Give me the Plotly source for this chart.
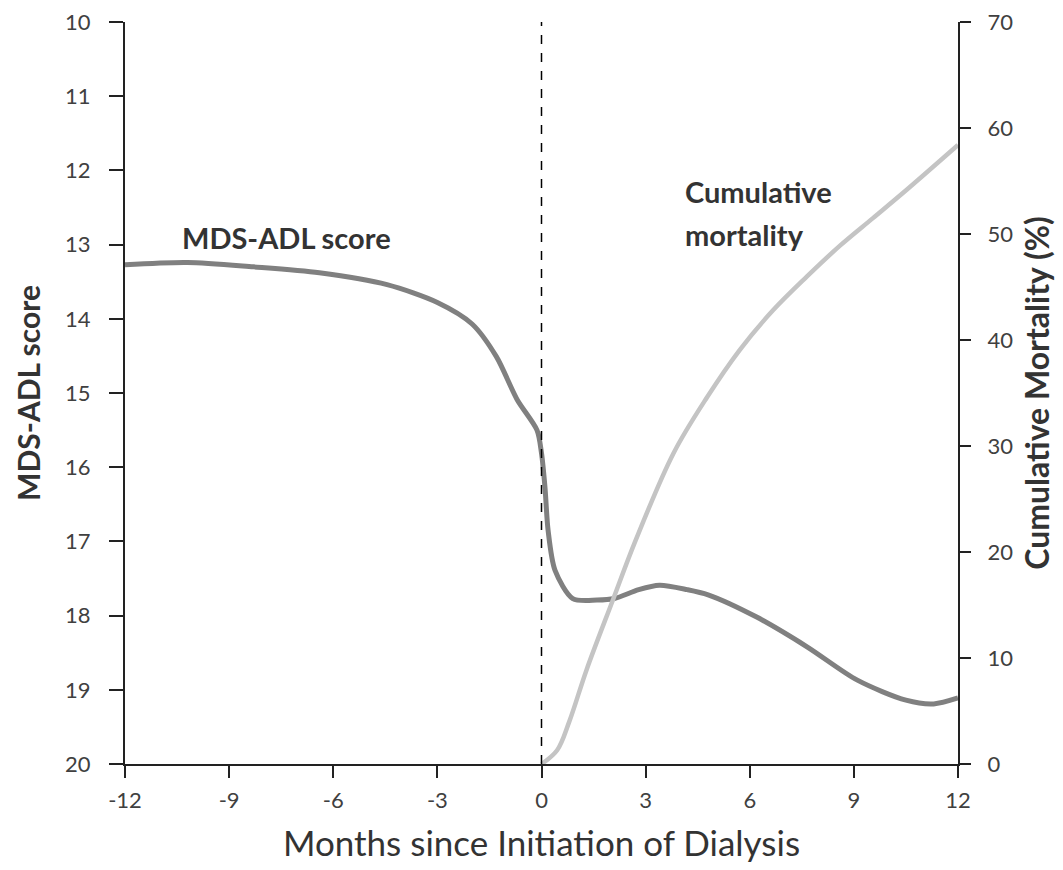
import plotly.graph_objects as go

# MDS-ADL score (left axis, reversed)
adl_months = [-12, -10.2, -8.3, -6.4, -4.45, -3.0, -2.0, -1.3, -0.7, -0.13, 0.0, 0.1, 0.19, 0.39, 0.9, 1.6, 2.1, 2.8, 3.4, 4.2, 4.8, 6.2, 7.65, 9.1, 10.5, 11.3, 12]
adl_score = [13.27, 13.24, 13.30, 13.38, 13.54, 13.78, 14.07, 14.51, 15.09, 15.50, 15.81, 16.27, 16.85, 17.39, 17.77, 17.79, 17.77, 17.65, 17.59, 17.65, 17.72, 18.02, 18.42, 18.87, 19.14, 19.19, 19.11]

# Cumulative mortality (right axis, %)
mort_months = [0.0, 0.45, 0.8, 1.3, 2.06, 2.7, 3.8, 4.77, 5.72, 6.67, 7.65, 8.6, 9.55, 10.53, 12.0]
mort_pct = [0.0, 1.3, 4.0, 8.9, 15.5, 21.0, 29.3, 34.6, 39.1, 42.8, 46.0, 48.9, 51.5, 54.2, 58.4]

x_ticks = [-12, -9, -6, -3, 0, 3, 6, 9, 12]
left_ticks = list(range(10, 21))
right_ticks = list(range(0, 71, 10))

FONT = "Lato, 'Open Sans', sans-serif"
TICKC = "#404040"
TITLEC = "#333333"

fig = go.Figure()
fig.add_trace(go.Scatter(x=mort_months, y=mort_pct, yaxis="y2", mode="lines",
                         line=dict(color="#c4c4c4", width=4.5, shape="spline", smoothing=1.0),
                         showlegend=False, hoverinfo="skip"))
fig.add_trace(go.Scatter(x=adl_months, y=adl_score, mode="lines",
                         line=dict(color="#808080", width=5, shape="spline", smoothing=0.8),
                         showlegend=False, hoverinfo="skip"))

fig.add_shape(type="line", xref="x", yref="paper", x0=0, x1=0, y0=0, y1=1,
              line=dict(color="black", width=1.5, dash="dash"))

fig.add_annotation(x=-10.42, y=12.90, xref="x", yref="y", text="<b>MDS-ADL score</b>",
                   showarrow=False, xanchor="left", yanchor="middle",
                   font=dict(family=FONT, size=29, color=TITLEC))
fig.add_annotation(x=4.08, y=12.29, xref="x", yref="y", text="<b>Cumulative</b>",
                   showarrow=False, xanchor="left", yanchor="middle",
                   font=dict(family=FONT, size=29, color=TITLEC))
fig.add_annotation(x=4.08, y=12.87, xref="x", yref="y", text="<b>mortality</b>",
                   showarrow=False, xanchor="left", yanchor="middle",
                   font=dict(family=FONT, size=29, color=TITLEC))

fig.update_layout(
    width=1055, height=862,
    margin=dict(l=117, r=105, t=14, b=106, autoexpand=False),
    paper_bgcolor="white", plot_bgcolor="white",
    font=dict(family=FONT, color=TICKC),
    xaxis=dict(range=[-12, 12], tickvals=x_ticks, ticktext=[str(v) for v in x_ticks],
               showgrid=False, zeroline=False, showline=True, linecolor="#222222", linewidth=2,
               ticks="outside", ticklen=12, tickwidth=2, tickcolor="#222222",
               tickfont=dict(size=22, color=TICKC), ticklabelstandoff=4,
               ticklabeloverflow="allow", automargin=False,
               title=dict(text="Months since Initiation of Dialysis",
                          font=dict(size=35, color=TITLEC), standoff=19)),
    yaxis=dict(range=[20, 10], tickvals=left_ticks, showgrid=False, zeroline=False,
               showline=True, linecolor="#222222", linewidth=2,
               ticks="outside", ticklen=14, tickwidth=2, tickcolor="#222222",
               tickfont=dict(size=22, color=TICKC), ticklabelstandoff=14,
               ticklabeloverflow="allow", automargin=False,
               title=dict(text="<b>MDS-ADL score</b>", font=dict(size=30, color=TITLEC), standoff=16)),
    yaxis2=dict(range=[0, 70], tickvals=right_ticks, overlaying="y", side="right",
                showgrid=False, zeroline=False, showline=True, linecolor="#222222", linewidth=2,
                ticks="outside", ticklen=11, tickwidth=2, tickcolor="#222222",
                tickfont=dict(size=22, color=TICKC), ticklabelstandoff=12,
                ticklabeloverflow="allow", automargin=False,
                title=dict(text="<b>Cumulative Mortality (%)</b>", font=dict(size=32, color=TITLEC), standoff=14)),
)

fig.write_html("out.html")
